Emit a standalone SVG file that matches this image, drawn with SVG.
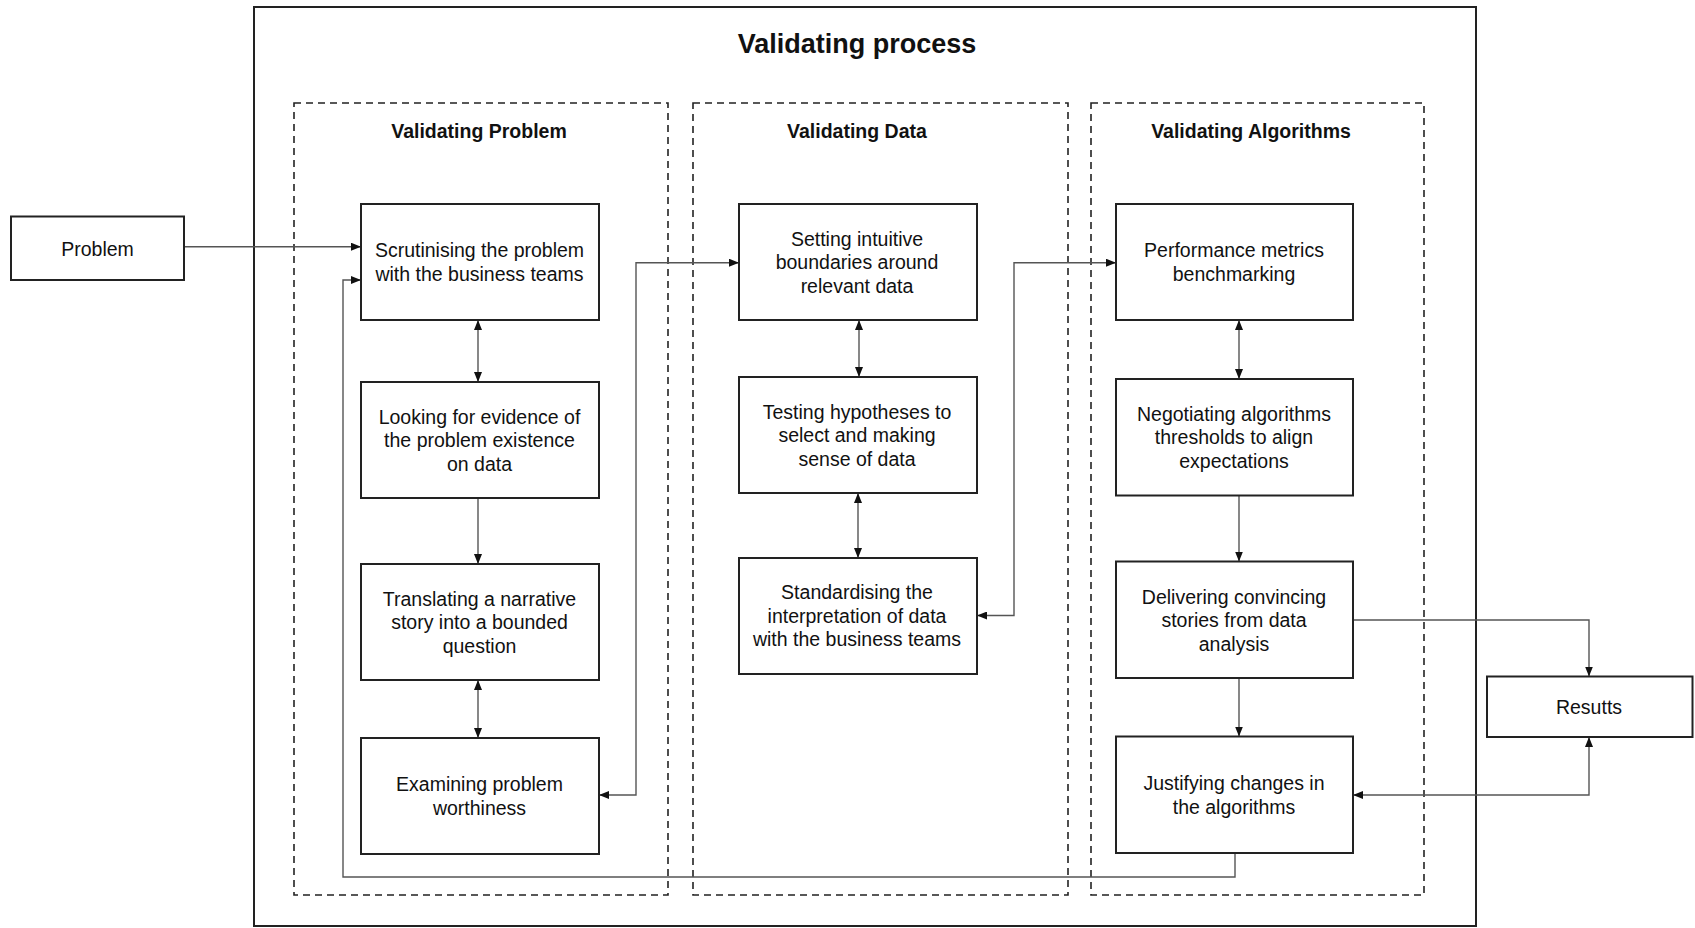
<svg xmlns="http://www.w3.org/2000/svg" width="1695" height="928" viewBox="0 0 1695 928">
<style>
.node{fill:#fff;stroke:#222;stroke-width:2}
.grp{fill:none;stroke:#222;stroke-width:1.6;stroke-dasharray:7 5}
.outer{fill:none;stroke:#222;stroke-width:2}
.t{font-family:"Liberation Sans",Arial,sans-serif;font-size:19.5px;fill:#111;text-anchor:middle}
.gt{font-family:"Liberation Sans",Arial,sans-serif;font-size:19.5px;font-weight:bold;fill:#111;text-anchor:middle}
.title{font-family:"Liberation Sans",Arial,sans-serif;font-size:27px;font-weight:bold;fill:#111;text-anchor:middle}
.c{fill:none;stroke:#555;stroke-width:1.4}
</style>
<defs>
<marker id="ah" viewBox="0 0 10 8" refX="10" refY="4" markerWidth="10" markerHeight="8" markerUnits="userSpaceOnUse" orient="auto-start-reverse">
<path d="M0,0 L10,4 L0,8 z" fill="#111"/>
</marker>
</defs>
<rect width="1695" height="928" fill="#fff"/>
<g id="outer-process">
<rect class="outer" x="254" y="7" width="1222" height="919"/>
<text class="title" x="857" y="52.5">Validating process</text>
</g>
<g id="group-problem">
<rect class="grp" x="294" y="103" width="374" height="792"/>
<text class="gt" x="479" y="137.5">Validating Problem</text>
</g>
<g id="group-data">
<rect class="grp" x="693" y="103" width="375" height="792"/>
<text class="gt" x="857" y="137.5">Validating Data</text>
</g>
<g id="group-algorithms">
<rect class="grp" x="1091" y="103" width="333" height="792"/>
<text class="gt" x="1251" y="137.5">Validating Algorithms</text>
</g>
<g id="connectors">
<path class="c" d="M184,246.7 H361" marker-end="url(#ah)"/>
<path class="c" d="M1235,853 V877 H343 V280 H361" marker-end="url(#ah)"/>
<path class="c" d="M478,320 V382" marker-start="url(#ah)" marker-end="url(#ah)"/>
<path class="c" d="M478,498 V564" marker-end="url(#ah)"/>
<path class="c" d="M478,680 V738" marker-start="url(#ah)" marker-end="url(#ah)"/>
<path class="c" d="M599,795 H636 V262.7 H739" marker-start="url(#ah)" marker-end="url(#ah)"/>
<path class="c" d="M977,615.5 H1014 V262.7 H1116" marker-start="url(#ah)" marker-end="url(#ah)"/>
<path class="c" d="M859,320 V377" marker-start="url(#ah)" marker-end="url(#ah)"/>
<path class="c" d="M858,493 V558" marker-start="url(#ah)" marker-end="url(#ah)"/>
<path class="c" d="M1239,320 V379" marker-start="url(#ah)" marker-end="url(#ah)"/>
<path class="c" d="M1239,495.5 V561.5" marker-end="url(#ah)"/>
<path class="c" d="M1239,678 V736.5" marker-end="url(#ah)"/>
<path class="c" d="M1353,620 H1589 V676.5" marker-end="url(#ah)"/>
<path class="c" d="M1589,737 V795 H1353" marker-start="url(#ah)" marker-end="url(#ah)"/>
</g>
<g id="problem">
<rect class="node" x="11" y="216.5" width="173" height="63.5"/>
<text class="t" x="97.5" y="255.5">Problem</text>
</g>
<g id="results">
<rect class="node" x="1487" y="676.5" width="205.5" height="60.5"/>
<text class="t" x="1589" y="714">Resutts</text>
</g>
<g id="scrutinising">
<rect class="node" x="361" y="204" width="238" height="116"/>
<text class="t" x="479.5" y="257.25">Scrutinising the problem</text>
<text class="t" x="479.5" y="280.75">with the business teams</text>
</g>
<g id="looking">
<rect class="node" x="361" y="382" width="238" height="116"/>
<text class="t" x="479.5" y="423.5">Looking for evidence of</text>
<text class="t" x="479.5" y="447">the problem existence</text>
<text class="t" x="479.5" y="470.5">on data</text>
</g>
<g id="translating">
<rect class="node" x="361" y="564" width="238" height="116"/>
<text class="t" x="479.5" y="605.5">Translating a narrative</text>
<text class="t" x="479.5" y="629">story into a bounded</text>
<text class="t" x="479.5" y="652.5">question</text>
</g>
<g id="examining">
<rect class="node" x="361" y="738" width="238" height="116"/>
<text class="t" x="479.5" y="791.25">Examining problem</text>
<text class="t" x="479.5" y="814.75">worthiness</text>
</g>
<g id="setting">
<rect class="node" x="739" y="204" width="238" height="116"/>
<text class="t" x="857" y="245.5">Setting intuitive</text>
<text class="t" x="857" y="269">boundaries around</text>
<text class="t" x="857" y="292.5">relevant data</text>
</g>
<g id="testing">
<rect class="node" x="739" y="377" width="238" height="116"/>
<text class="t" x="857" y="418.5">Testing hypotheses to</text>
<text class="t" x="857" y="442">select and making</text>
<text class="t" x="857" y="465.5">sense of data</text>
</g>
<g id="standardising">
<rect class="node" x="739" y="558" width="238" height="116"/>
<text class="t" x="857" y="599">Standardising the</text>
<text class="t" x="857" y="622.5">interpretation of data</text>
<text class="t" x="857" y="646">with the business teams</text>
</g>
<g id="performance">
<rect class="node" x="1116" y="204" width="237" height="116"/>
<text class="t" x="1234" y="257.25">Performance metrics</text>
<text class="t" x="1234" y="280.75">benchmarking</text>
</g>
<g id="negotiating">
<rect class="node" x="1116" y="379" width="237" height="116.5"/>
<text class="t" x="1234" y="420.5">Negotiating algorithms</text>
<text class="t" x="1234" y="444">thresholds to align</text>
<text class="t" x="1234" y="467.5">expectations</text>
</g>
<g id="delivering">
<rect class="node" x="1116" y="561.5" width="237" height="116.5"/>
<text class="t" x="1234" y="603.5">Delivering convincing</text>
<text class="t" x="1234" y="627">stories from data</text>
<text class="t" x="1234" y="650.5">analysis</text>
</g>
<g id="justifying">
<rect class="node" x="1116" y="736.5" width="237" height="116.5"/>
<text class="t" x="1234" y="790">Justifying changes in</text>
<text class="t" x="1234" y="813.5">the algorithms</text>
</g>
</svg>
